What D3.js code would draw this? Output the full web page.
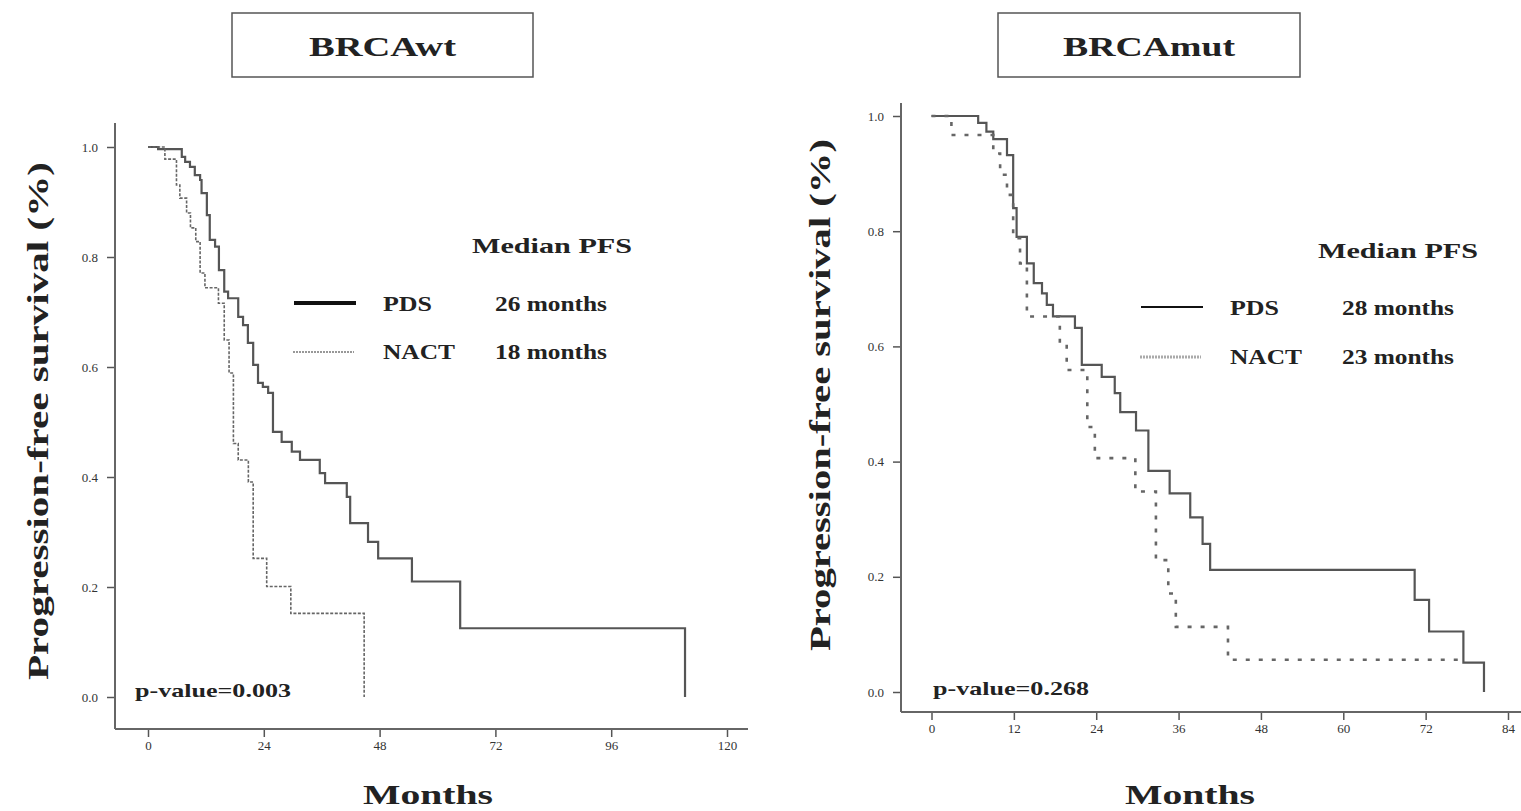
<!DOCTYPE html>
<html>
<head>
<meta charset="utf-8">
<script src="https://cdn.jsdelivr.net/npm/d3@7"></script>
<style>
  body { margin: 0; background: #fff; }
  text { font-family: 'Liberation Serif', 'Times New Roman', serif; }
</style>
</head>
<body>
<div id="chart-container"></div>
<script>
// tick labels
const survTicks = [0, 0.2, 0.4, 0.6, 0.8, 1.0]
const wtMonthTicks = [0, 24, 48, 72, 96, 120]
const mutMonthTicks = [0, 12, 24, 36, 48, 60, 72, 84]

// BRCAwt
const wtPdsMonths = [0, 2.1, 7.0, 7.7, 8.7, 9.7, 10.8, 11.1, 12.2, 12.8, 13.9, 14.7, 15.8, 16.6, 18.7, 19.7, 20.7, 21.8, 22.8, 23.8, 24.9, 25.9, 27.7, 29.8, 31.5, 35.6, 36.7, 41.2, 41.9, 45.6, 47.7, 54.7, 64.7, 111.3]
const wtPdsSurv = [1, 0.996, 0.982, 0.973, 0.964, 0.949, 0.940, 0.916, 0.876, 0.831, 0.819, 0.776, 0.737, 0.725, 0.691, 0.676, 0.644, 0.604, 0.571, 0.564, 0.553, 0.482, 0.464, 0.446, 0.431, 0.407, 0.389, 0.364, 0.316, 0.282, 0.252, 0.210, 0.125, 0]
const wtNactMonths = [0, 3.5, 5.9, 6.6, 8.0, 8.8, 9.9, 10.8, 11.8, 14.6, 15.8, 16.8, 17.7, 18.7, 20.8, 21.8, 24.6, 29.6, 44.8]
const wtNactSurv = [1, 0.978, 0.931, 0.907, 0.880, 0.853, 0.828, 0.771, 0.744, 0.716, 0.649, 0.589, 0.461, 0.431, 0.391, 0.252, 0.201, 0.152, 0]

// BRCAmut
const mutPdsMonths = [0, 6.8, 8.0, 9.0, 11.0, 11.9, 12.4, 13.9, 14.9, 16.1, 16.8, 17.7, 20.9, 21.9, 24.8, 26.7, 27.5, 29.8, 31.6, 34.7, 37.7, 39.5, 40.6, 70.4, 72.5, 77.5, 80.5]
const mutPdsSurv = [1, 0.988, 0.973, 0.960, 0.932, 0.840, 0.790, 0.744, 0.710, 0.692, 0.672, 0.652, 0.632, 0.568, 0.547, 0.519, 0.486, 0.454, 0.384, 0.345, 0.303, 0.257, 0.212, 0.160, 0.105, 0.051, 0]
const mutNactMonths = [0, 2.9, 9.0, 10.0, 11.0, 11.9, 12.9, 13.9, 18.7, 19.7, 22.7, 23.8, 29.7, 32.7, 34.5, 35.6, 43.2, 77.5]
const mutNactSurv = [1, 0.967, 0.935, 0.898, 0.863, 0.788, 0.744, 0.652, 0.606, 0.559, 0.460, 0.406, 0.348, 0.229, 0.171, 0.113, 0.056, 0.056]

const groups = ['BRCAwt', 'BRCAmut']
const medians = [['26 months', '18 months'], ['28 months', '23 months']]
const pValues = ['p-value=0.003', 'p-value=0.268']

const width = 1521
const height = 811

const svg = d3.select('#chart-container')
  .append('svg')
  .attr('width', width)
  .attr('height', height)

const zip = (ms, ss) => ms.map((m, i) => ({m, s: ss[i]}))

// layout of each panel (pixels)
const panels = [
  {
    title: groups[0], box: [232, 13, 301, 64], titleW: 147,
    xMax: 120, xRange: [148, 727], yRange: [697, 147], xTicks: wtMonthTicks,
    axisX: 115, axisTop: 123, axisY: 729, axisRight: 748,
    pds: zip(wtPdsMonths, wtPdsSurv), nact: zip(wtNactMonths, wtNactSurv),
    nactDash: '3,1.6', nactW: 1.6,
    ylabX: 38, ylabY: 421, ylabW: 518,
    monthsX: 428,
    legX: 294, legNact: {color: '#333', w: 1.2, dash: '2,1'}, legPdsW: 4,
    medianX: 552, medianY: 253, pdsY: 311, nactY: 359, labX: 383, valX: 495,
    med: medians[0], p: pValues[0], pX: 135, pY: 697
  },
  {
    title: groups[1], box: [998, 13, 302, 64], titleW: 172,
    xMax: 84, xRange: [931.5, 1508], yRange: [692, 116], xTicks: mutMonthTicks,
    axisX: 901, axisTop: 103, axisY: 712, axisRight: 1521,
    pds: zip(mutPdsMonths, mutPdsSurv), nact: zip(mutNactMonths, mutNactSurv),
    nactDash: '4,9', nactW: 2.6,
    ylabX: 820, ylabY: 395, ylabW: 512,
    monthsX: 1190,
    legX: 1141, legNact: {color: '#aaa', w: 3, dash: '2,1'}, legPdsW: 2,
    medianX: 1398, medianY: 258, pdsY: 315, nactY: 364, labX: 1230, valX: 1342,
    med: medians[1], p: pValues[1], pX: 933, pY: 695
  }
]

function drawPanel (cfg) {
  const g = svg.append('g')
  const x = d3.scaleLinear().domain([0, cfg.xMax]).range(cfg.xRange)
  const y = d3.scaleLinear().domain([0, 1]).range(cfg.yRange)

  // title box
  g.append('rect')
    .attr('x', cfg.box[0]).attr('y', cfg.box[1])
    .attr('width', cfg.box[2]).attr('height', cfg.box[3])
    .attr('fill', 'none').attr('stroke', '#555').attr('stroke-width', 1.5)
  g.append('text')
    .attr('x', cfg.box[0] + cfg.box[2] / 2 - cfg.titleW / 2)
    .attr('y', cfg.box[1] + 43)
    .attr('font-size', 28).attr('font-weight', 'bold').attr('fill', '#222')
    .attr('textLength', cfg.titleW).attr('lengthAdjust', 'spacingAndGlyphs')
    .text(cfg.title)

  // y axis
  const yAxis = g.append('g')
    .attr('transform', `translate(${cfg.axisX},0)`)
    .call(d3.axisLeft(y).tickValues(survTicks).tickSize(8).tickFormat(d3.format('.1f')))
  yAxis.select('.domain').remove()
  yAxis.selectAll('line').attr('stroke', '#555').attr('stroke-width', 1.5)
  yAxis.selectAll('text').attr('font-size', 13).attr('fill', '#333')
    .attr('font-family', 'Liberation Serif').attr('dx', -6)
  g.append('line')
    .attr('x1', cfg.axisX).attr('x2', cfg.axisX)
    .attr('y1', cfg.axisTop).attr('y2', cfg.axisY)
    .attr('stroke', '#666').attr('stroke-width', 2)

  // x axis
  const xAxis = g.append('g')
    .attr('transform', `translate(0,${cfg.axisY})`)
    .call(d3.axisBottom(x).tickValues(cfg.xTicks).tickSize(8))
  xAxis.select('.domain').remove()
  xAxis.selectAll('line').attr('stroke', '#555').attr('stroke-width', 1.5)
  xAxis.selectAll('text').attr('font-size', 13).attr('fill', '#333')
    .attr('font-family', 'Liberation Serif').attr('dy', '0.8em')
  g.append('line')
    .attr('x1', cfg.axisX).attr('x2', cfg.axisRight)
    .attr('y1', cfg.axisY).attr('y2', cfg.axisY)
    .attr('stroke', '#666').attr('stroke-width', 2)

  // curves
  const line = d3.line()
    .x(d => x(d.m))
    .y(d => y(d.s))
    .curve(d3.curveStepAfter)
  g.append('path')
    .datum(cfg.pds)
    .attr('d', line)
    .attr('fill', 'none').attr('stroke', '#555').attr('stroke-width', 2.2)
  g.append('path')
    .datum(cfg.nact)
    .attr('d', line)
    .attr('fill', 'none').attr('stroke', '#666').attr('stroke-width', cfg.nactW)
    .attr('stroke-dasharray', cfg.nactDash)

  // axis titles
  g.append('text')
    .attr('transform', `translate(${cfg.ylabX + 10},${cfg.ylabY}) rotate(-90)`)
    .attr('x', -cfg.ylabW / 2)
    .attr('font-size', 30).attr('font-weight', 'bold').attr('fill', '#222')
    .attr('textLength', cfg.ylabW).attr('lengthAdjust', 'spacingAndGlyphs')
    .text('Progression-free survival (%)')
  g.append('text')
    .attr('x', cfg.monthsX - 65).attr('y', 804)
    .attr('font-size', 27).attr('font-weight', 'bold').attr('fill', '#222')
    .attr('textLength', 130).attr('lengthAdjust', 'spacingAndGlyphs')
    .text('Months')

  // legend
  g.append('text')
    .attr('x', cfg.medianX - 80).attr('y', cfg.medianY)
    .attr('font-size', 22).attr('font-weight', 'bold').attr('fill', '#222')
    .attr('textLength', 160).attr('lengthAdjust', 'spacingAndGlyphs')
    .text('Median PFS')
  g.append('line')
    .attr('x1', cfg.legX).attr('x2', cfg.legX + 62)
    .attr('y1', cfg.pdsY - 8).attr('y2', cfg.pdsY - 8)
    .attr('stroke', '#111').attr('stroke-width', cfg.legPdsW)
  g.append('line')
    .attr('x1', cfg.legX - 1).attr('x2', cfg.legX + 60)
    .attr('y1', cfg.nactY - 7).attr('y2', cfg.nactY - 7)
    .attr('stroke', cfg.legNact.color).attr('stroke-width', cfg.legNact.w)
    .attr('stroke-dasharray', cfg.legNact.dash)

  const rows = [['PDS', cfg.med[0], cfg.pdsY, 49], ['NACT', cfg.med[1], cfg.nactY, 72]]
  rows.forEach(r => {
    g.append('text')
      .attr('x', cfg.labX).attr('y', r[2])
      .attr('font-size', 20).attr('font-weight', 'bold').attr('fill', '#222')
      .attr('textLength', r[3]).attr('lengthAdjust', 'spacingAndGlyphs')
      .text(r[0])
    g.append('text')
      .attr('x', cfg.valX).attr('y', r[2])
      .attr('font-size', 20).attr('font-weight', 'bold').attr('fill', '#222')
      .attr('textLength', 112).attr('lengthAdjust', 'spacingAndGlyphs')
      .text(r[1])
  })

  g.append('text')
    .attr('x', cfg.pX).attr('y', cfg.pY)
    .attr('font-size', 19).attr('font-weight', 'bold').attr('fill', '#222')
    .attr('textLength', 156).attr('lengthAdjust', 'spacingAndGlyphs')
    .text(cfg.p)
}

panels.forEach(drawPanel)
</script>
</body>
</html>
